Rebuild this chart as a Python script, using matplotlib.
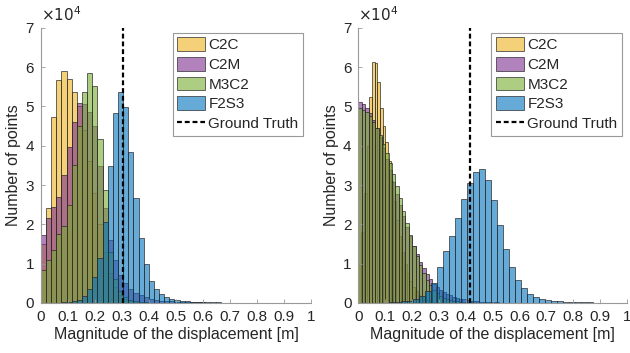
import numpy as np
import matplotlib
matplotlib.use("Agg")
import matplotlib.pyplot as plt
from matplotlib.colors import to_rgba

plt.rcParams['font.family'] = ['Liberation Sans', 'DejaVu Sans']

# bar heights in units of 1e4 points, bins start at 0
# left panel (bin width 0.019)
left_bw = 0.019
left_c2c = [1.5, 2.42, 4.72, 5.67, 5.9, 5.69, 5.36, 5.0, 4.4, 3.6, 2.8, 2.0, 1.3, 0.75,
            0.4, 0.2, 0.1, 0.05, 0.03, 0.02, 0.01]
left_c2m = [1.73, 2.16, 2.45, 2.7, 3.26, 3.96, 4.61, 5.1, 5.05, 4.85, 4.5, 3.49, 2.42, 1.6,
            1.1, 0.71, 0.5, 0.36, 0.26, 0.19, 0.14, 0.1, 0.08, 0.06, 0.05, 0.04, 0.03,
            0.025, 0.02, 0.015, 0.01, 0.01, 0.008]
left_m3c2 = [0.84, 1.09, 1.35, 1.75, 1.95, 2.5, 3.5, 4.5, 5.38, 5.84, 5.52, 4.17, 2.87, 1.3,
             0.6, 0.3, 0.15, 0.08, 0.04, 0.02, 0.01]
left_f2s3 = [0.0, 0.0, 0.0, 0.0, 0.01, 0.02, 0.04, 0.08, 0.17, 0.35, 0.67, 1.15, 2.07, 3.49,
             4.84, 5.36, 4.99, 3.83, 2.67, 1.65, 1.0, 0.56, 0.35, 0.22, 0.14, 0.1, 0.07,
             0.05, 0.04, 0.03, 0.025, 0.02, 0.016, 0.013, 0.01, 0.008, 0.007, 0.006,
             0.005, 0.004, 0.004, 0.003]
left_truth = 0.305

# right panel
right_bw_c2c = 0.01
right_c2c = [1.0, 1.8, 2.8, 4.0, 5.25, 6.14, 6.1, 5.63, 4.95, 4.49, 4.1, 3.6, 3.1, 2.6, 2.1,
             1.7, 1.3, 1.0, 0.75, 0.55, 0.4, 0.3, 0.2, 0.14, 0.1, 0.07, 0.05, 0.03, 0.02,
             0.01]
right_bw_pm = 0.0125
right_c2m = [5.11, 5.07, 4.97, 4.84, 4.66, 4.45, 4.21, 3.95, 3.67, 3.37, 3.08, 2.78, 2.49,
             2.2, 1.94, 1.69, 1.46, 1.24, 1.05, 0.88, 0.73, 0.6, 0.49, 0.4, 0.33, 0.28,
             0.23, 0.19, 0.16, 0.13, 0.11, 0.09, 0.075, 0.06, 0.05, 0.04, 0.03, 0.025,
             0.02, 0.016, 0.013, 0.01]
right_m3c2 = [4.95, 4.92, 4.85, 4.75, 4.6, 4.45, 4.27, 4.05, 3.82, 3.56, 3.28, 2.98, 2.66,
              2.34, 2.03, 1.73, 1.45, 1.19, 0.96, 0.76, 0.59, 0.45, 0.34, 0.25, 0.18, 0.13,
              0.09, 0.07, 0.05, 0.04, 0.03, 0.02, 0.015, 0.01]
right_bw_f2s3 = 0.0224
right_f2s3 = [0.0, 0.0, 0.0, 0.0, 0.0, 0.01, 0.02, 0.04, 0.06, 0.1, 0.17, 0.3, 0.5, 0.92,
              1.31, 1.7, 2.15, 2.65, 3.06, 3.34, 3.4, 3.13, 2.62, 1.98, 1.37, 0.92, 0.59,
              0.39, 0.23, 0.16, 0.1, 0.07, 0.05, 0.035, 0.025, 0.02, 0.015, 0.012, 0.01,
              0.008, 0.007, 0.006, 0.005, 0.004]
right_truth = 0.415

labels = ['C2C', 'C2M', 'M3C2', 'F2S3']
colors = ['#EDB120', '#7E2F8E', '#77AC30', '#0072BD']
xticks = [0, 0.1, 0.2, 0.3, 0.4, 0.5, 0.6, 0.7, 0.8, 0.9, 1]
xtick_labels = ['0', '0.1', '0.2', '0.3', '0.4', '0.5', '0.6', '0.7', '0.8', '0.9', '1']
yticks = [0, 1, 2, 3, 4, 5, 6, 7]

axis_grey = (0.15, 0.15, 0.15)
edge = (0.15, 0.15, 0.15, 0.8)


def draw_hist(ax, heights, bw, color, label):
    h = np.array(heights) * 1e4
    edges = np.arange(len(h)) * bw
    return ax.bar(edges, h, width=bw, align='edge', facecolor=to_rgba(color, 0.6),
                  edgecolor=edge, linewidth=0.6, label=label)


def style_axes(ax, truth, handles, leg_x):
    line = ax.axvline(truth, color='k', linestyle=(0, (2.2, 1.3)), linewidth=1.6,
                      label='Ground Truth')
    ax.set_xlim(0, 1)
    ax.set_ylim(0, 7e4)
    ax.set_xticks(xticks)
    ax.set_xticklabels(xtick_labels)
    ax.set_yticks([y * 1e4 for y in yticks])
    ax.set_yticklabels([str(y) for y in yticks])
    for s in ['top', 'right']:
        ax.spines[s].set_visible(False)
    for s in ['left', 'bottom']:
        ax.spines[s].set_color((0.6, 0.6, 0.6))
        ax.spines[s].set_linewidth(0.8)
    ax.tick_params(direction='in', length=3, width=0.6, color=(0.6, 0.6, 0.6),
                   labelcolor=axis_grey, labelsize=11, pad=5)
    ax.set_xlabel('Magnitude of the displacement [m]', fontsize=11.5, color=axis_grey,
                  labelpad=2)
    ax.set_ylabel('Number of points', fontsize=11.5, color=axis_grey, labelpad=3)
    ax.text(0.0, 1.015, r'$\times10^{4}$', transform=ax.transAxes, fontsize=11,
            color=axis_grey, ha='left', va='bottom')
    leg = ax.legend(handles + [line], labels + ['Ground Truth'],
                    loc='upper right', bbox_to_anchor=(leg_x, 0.982), fontsize=11,
                    frameon=True, fancybox=False, edgecolor=(0.6, 0.6, 0.6),
                    framealpha=1, borderpad=0.3, handlelength=1.85, handleheight=1.0,
                    handletextpad=0.2, labelspacing=0.3, borderaxespad=0.0)
    leg.get_frame().set_linewidth(0.8)
    for t in leg.get_texts():
        t.set_color(axis_grey)


fig = plt.figure(figsize=(6.3, 3.53), dpi=100)
ax1 = fig.add_axes([0.065, 0.142, 0.429, 0.779])
ax2 = fig.add_axes([0.569, 0.142, 0.426, 0.779])

h1 = [draw_hist(ax1, left_c2c, left_bw, colors[0], labels[0]),
      draw_hist(ax1, left_c2m, left_bw, colors[1], labels[1]),
      draw_hist(ax1, left_m3c2, left_bw, colors[2], labels[2]),
      draw_hist(ax1, left_f2s3, left_bw, colors[3], labels[3])]
style_axes(ax1, left_truth, h1, 0.97)

h2 = [draw_hist(ax2, right_c2c, right_bw_c2c, colors[0], labels[0]),
      draw_hist(ax2, right_c2m, right_bw_pm, colors[1], labels[1]),
      draw_hist(ax2, right_m3c2, right_bw_pm, colors[2], labels[2]),
      draw_hist(ax2, right_f2s3, right_bw_f2s3, colors[3], labels[3])]
style_axes(ax2, right_truth, h2, 0.982)

fig.savefig('out.png', dpi=100)
